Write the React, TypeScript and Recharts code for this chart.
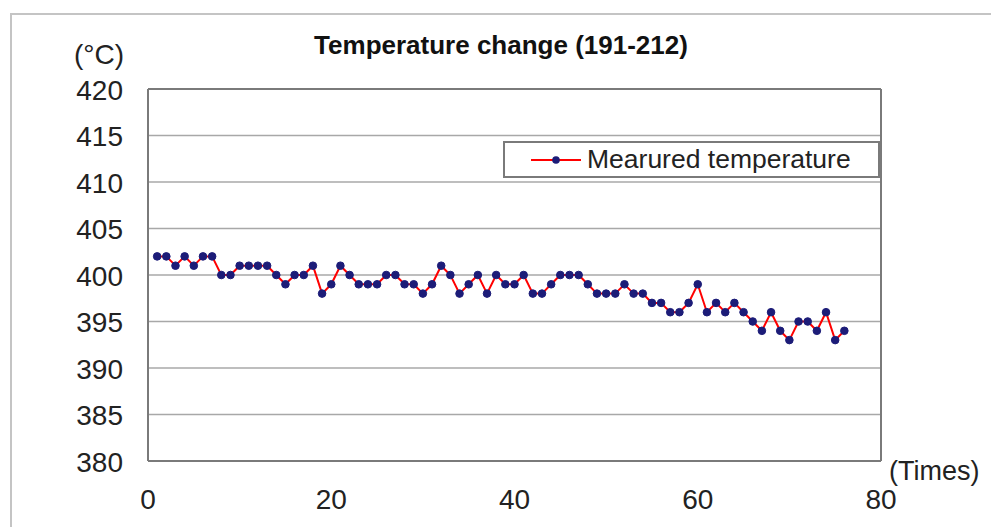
import React from "react";
import { LineChart, Line, XAxis, YAxis, CartesianGrid, ReferenceLine, Legend } from "recharts";

const times: number[] = Array.from({ length: 76 }, (_, i) => i + 1);
const temperatures: number[] = [
  402, 402, 401, 402, 401, 402, 402, 400, 400, 401,
  401, 401, 401, 400, 399, 400, 400, 401, 398, 399,
  401, 400, 399, 399, 399, 400, 400, 399, 399, 398,
  399, 401, 400, 398, 399, 400, 398, 400, 399, 399,
  400, 398, 398, 399, 400, 400, 400, 399, 398, 398,
  398, 399, 398, 398, 397, 397, 396, 396, 397, 399,
  396, 397, 396, 397, 396, 395, 394, 396, 394, 393,
  395, 395, 394, 396, 393, 394,
];
const xTicks: number[] = [0, 20, 40, 60, 80];
const yTicks: number[] = [380, 385, 390, 395, 400, 405, 410, 415, 420];
const seriesName = "Mearured temperature";
const title = "Temperature change (191-212)";

const data = times.map((t, i) => ({ x: t, y: temperatures[i] }));

const FONT = "'Liberation Sans', Arial, sans-serif";
const LINE_COLOR = "#ff0000";
const DOT_COLOR = "#1c1c78";
const BORDER = "#7a7a7a";

const XTick = (props: any) => {
  const { x, y, payload } = props;
  return (
    <text x={x} y={y + 38} textAnchor="middle" dominantBaseline="central" fontFamily={FONT} fontSize={28} fill="#222">
      {payload.value}
    </text>
  );
};

const YTick = (props: any) => {
  const { x, y, payload } = props;
  return (
    <text x={x - 25} y={y + 1} textAnchor="end" dominantBaseline="central" fontFamily={FONT} fontSize={28} fill="#222">
      {payload.value}
    </text>
  );
};

const LegendBox = () => (
  <div
    style={{
      width: 377,
      height: 37,
      border: `2px solid ${BORDER}`,
      background: "#fff",
      boxSizing: "border-box",
      position: "relative",
    }}
  >
    <svg width={60} height={33} style={{ position: "absolute", left: 24, top: 0 }}>
      <line x1={2} y1={17} x2={52} y2={17} stroke={LINE_COLOR} strokeWidth={2} />
      <circle cx={27} cy={17} r={3.8} fill={DOT_COLOR} />
    </svg>
    <span
      style={{
        position: "absolute",
        left: 82,
        top: 0,
        lineHeight: "33px",
        fontFamily: FONT,
        fontSize: 26.5,
        color: "#222",
        whiteSpace: "nowrap",
      }}
    >
      {seriesName}
    </span>
  </div>
);

export default function App() {
  return (
    <div style={{ position: "absolute", left: 0, top: 0, width: 991, height: 527, background: "#fff", overflow: "hidden" }}>
      <div
        style={{
          position: "absolute",
          left: 10,
          top: 13,
          width: 1100,
          height: 700,
          borderLeft: "2px solid #c4c4c4",
          borderTop: "2px solid #c4c4c4",
        }}
      />
      <div style={{ position: "absolute", left: 0, top: 0 }}>
        <LineChart width={991} height={527} data={data} margin={{ top: 89, right: 110, left: 0, bottom: 0 }}>
          <CartesianGrid horizontal={true} vertical={false} stroke="#a8a8a8" strokeWidth={1.5} />
          <XAxis
            dataKey="x"
            type="number"
            domain={[0, 80]}
            ticks={xTicks}
            height={66}
            tickLine={false}
            tickSize={0}
            tickMargin={0}
            axisLine={{ stroke: BORDER, strokeWidth: 2 }}
            tick={<XTick />}
            interval={0}
          />
          <YAxis
            type="number"
            domain={[380, 420]}
            ticks={yTicks}
            width={148}
            tickLine={false}
            tickSize={0}
            tickMargin={0}
            axisLine={{ stroke: BORDER, strokeWidth: 2 }}
            tick={<YTick />}
            interval={0}
          />
          <ReferenceLine y={420} stroke={BORDER} strokeWidth={2} />
          <ReferenceLine x={80} stroke={BORDER} strokeWidth={2} />
          <Legend
            content={<LegendBox />}
            wrapperStyle={{ position: "absolute", left: 503, top: 141, width: 377, height: 0, overflow: "visible" }}
          />
          <Line
            type="linear"
            dataKey="y"
            name={seriesName}
            stroke={LINE_COLOR}
            strokeWidth={2}
            dot={{ r: 3.8, fill: DOT_COLOR, stroke: DOT_COLOR, strokeWidth: 1 }}
            activeDot={false}
            isAnimationActive={false}
          />
        </LineChart>
      </div>
      <div
        style={{
          position: "absolute",
          left: 301,
          top: 28,
          width: 400,
          textAlign: "center",
          fontFamily: FONT,
          fontWeight: "bold",
          fontSize: 26,
          lineHeight: "34px",
          color: "#111",
          whiteSpace: "nowrap",
        }}
      >
        {title}
      </div>
      <div style={{ position: "absolute", left: 74, top: 39, fontFamily: FONT, fontSize: 28, lineHeight: "32px", color: "#222" }}>
        (°C)
      </div>
      <div style={{ position: "absolute", left: 889, top: 455, fontFamily: FONT, fontSize: 27, lineHeight: "32px", color: "#222", whiteSpace: "nowrap" }}>
        (Times)
      </div>
    </div>
  );
}
